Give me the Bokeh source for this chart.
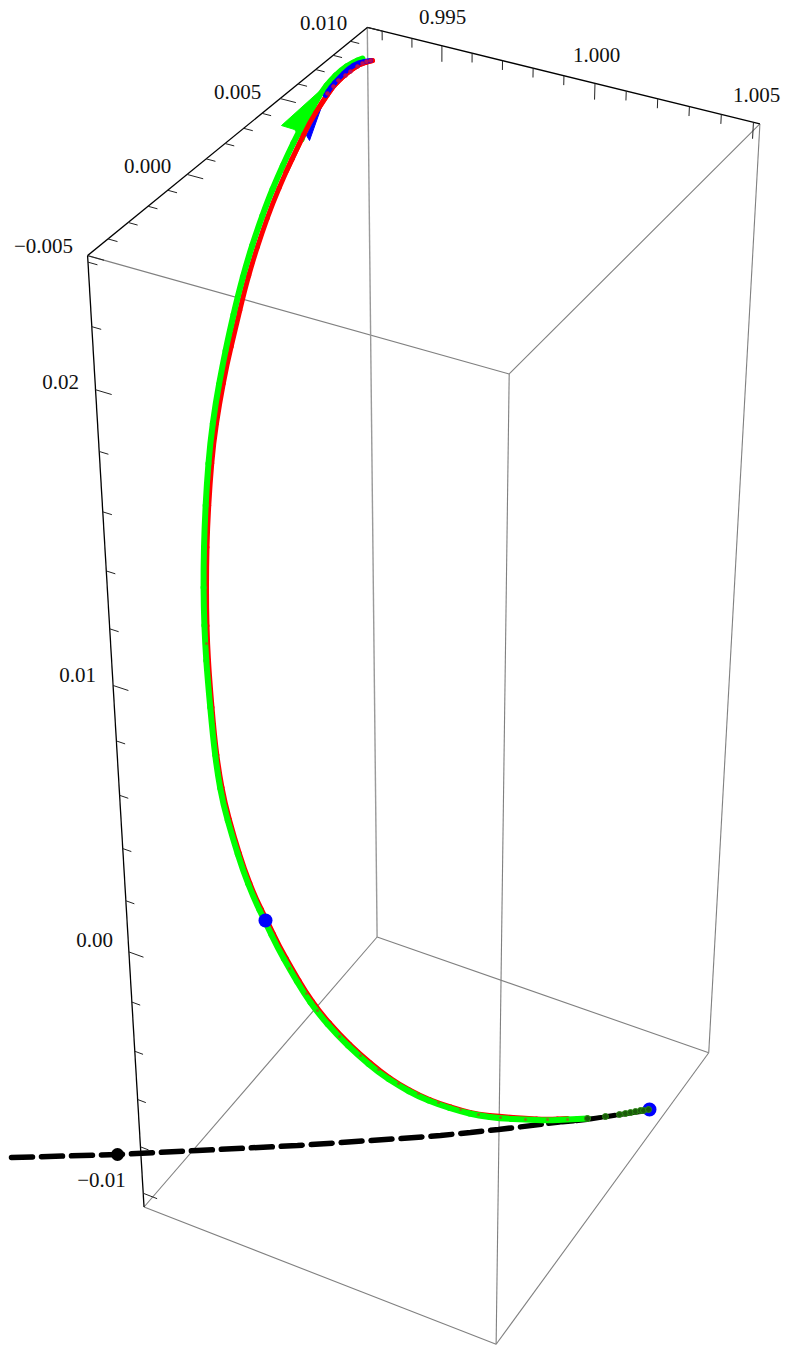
import numpy as np
from bokeh.plotting import figure
from bokeh.models import Range1d
from bokeh.core.properties import value
from bokeh.embed import file_html
from bokeh.resources import INLINE

# Ranges of the 3-D box and the ticks, in chart units
x_lim = (0.9925, 1.0052)
y_lim = (-0.005, 0.010)
z_lim = (-0.0106, 0.0242)
x_minor = [0.993, 0.994, 0.996, 0.997, 0.998, 0.999, 1.001, 1.002, 1.003, 1.004]
x_major = [0.995, 1.000, 1.005]
x_labels = ["0.995", "1.000", "1.005"]
y_minor = [-0.004, -0.003, -0.002, -0.001, 0.001, 0.002, 0.003, 0.004, 0.006, 0.007, 0.008, 0.009]
y_major = [-0.005, 0.000, 0.005, 0.010]
y_labels = ["\u22120.005", "0.000", "0.005", "0.010"]
z_minor = [-0.008, -0.006, -0.004, -0.002, 0.002, 0.004, 0.006, 0.008, 0.012, 0.014, 0.016, 0.018, 0.022, 0.024]
z_major = [-0.01, 0.00, 0.01, 0.02]
z_labels = ["\u22120.01", "0.00", "0.01", "0.02"]

# Where the eight box corners appear on the picture (x low/high, y low/high, z low/high)
corner_px = {
    (0, 0, 1): (87, 255), (0, 1, 1): (367, 27), (1, 1, 1): (759, 123), (1, 0, 1): (509, 374),
    (0, 0, 0): (143, 1206), (0, 1, 0): (377, 937), (1, 1, 0): (708, 1052), (1, 0, 0): (496, 1344),
}

# Curves
green_px = [362, 352, 340, 330, 322, 310, 298, 287.8, 276.9, 267.4, 256.5, 246.9, 237.9, 228.2, 222, 215, 209.6, 206.3, 204, 203, 203.2, 204.6, 207,
            212.5, 217, 222.5, 232, 242.5, 253, 265, 277, 290, 303, 317, 337, 358, 378, 398, 418, 438, 460, 478, 500, 525, 547, 567, 587]
green_py = [58, 62, 70, 80, 90, 110, 132, 153, 177, 200, 230, 260, 293, 335, 365, 403, 443, 483, 527, 567, 607, 643, 677,
            737, 773, 803, 837, 870, 897, 922, 947, 970, 992, 1012, 1035, 1055, 1072, 1085, 1096, 1104, 1111, 1115, 1118, 1119, 1120, 1119, 1118]
green_tail_px = [580, 590, 607, 620]
green_tail_py = [1118, 1118, 1116, 1114]
red_px = [372, 360, 347, 333, 321, 309, 298, 285.2, 272, 261.3, 252.5, 244, 234.6, 226.6, 219, 213, 209.5, 207, 206, 206, 207, 209,
          214, 218.7, 224.3, 233.5, 244, 254.5, 267, 279, 292, 305, 319, 339, 360, 380, 399, 419, 439, 461, 478, 500, 525, 547, 567]
red_py = [60, 63, 72, 85, 103, 122, 145, 172, 203, 233, 260, 290, 330, 363, 403, 443, 483, 527, 567, 607, 643, 677,
          736.5, 772, 802, 836, 869, 896, 921, 946, 969, 991, 1011, 1034, 1054, 1071, 1084, 1095, 1103, 1110, 1114, 1116, 1118, 1119, 1118]
blue_px = [370, 358, 348, 338, 330, 325]
blue_py = [60, 62, 68, 78, 87, 95]
dashed_px = [11, 117, 197, 297, 400, 440, 470, 498, 548]
dashed_py = [1157, 1154, 1150, 1145, 1138, 1135, 1132, 1129, 1123]
dashed_end_px = [548, 587, 613, 648]
dashed_end_py = [1123, 1119, 1115, 1110]

green_head_px = [322, 281, 294, 303]
green_head_py = [88, 125, 129, 141]
blue_head_px = [325, 306, 309]
blue_head_py = [95, 135, 140]

blue_dots_px = [649, 265]
blue_dots_py = [1109, 920]
black_dot_px = [117]
black_dot_py = [1154]
top_dots_px = [370, 366, 362, 357, 350, 345, 338, 333, 327]
top_dots_py = [60, 61, 63, 66, 71, 75, 80, 86, 93]
small_dots_px = [206, 289, 306, 317, 339, 360, 378, 398, 418, 438, 460, 478, 500, 525, 547, 567]
small_dots_py = [643, 968, 993, 1010, 1036, 1055, 1069, 1083, 1093, 1102, 1109, 1114, 1117, 1119, 1119, 1119]
end_dots_px = [587, 605, 619, 625, 630, 635, 640, 643, 648]
end_dots_py = [1118, 1116, 1114, 1113, 1112, 1111, 1110, 1110, 1109]

# Label anchors on the picture
x_label_px, x_label_py = [442, 596, 756], [17, 55, 95]
y_label_px, y_label_py = [43, 147, 237, 323], [246, 166, 92, 23]
z_label_px, z_label_py = [101, 94, 77, 60], [1180, 940, 675, 382]


def unit(v, lim):
    return (np.asarray(v, dtype=float) - lim[0]) / (lim[1] - lim[0])


# Perspective camera of the box: fitted to the eight corners
rows = []
for (a, b, c), (u, v) in corner_px.items():
    u, v = u / 1000, v / 1000
    rows.append([a, b, c, 1, 0, 0, 0, 0, -u * a, -u * b, -u * c, -u])
    rows.append([0, 0, 0, 0, a, b, c, 1, -v * a, -v * b, -v * c, -v])
P = np.linalg.svd(np.array(rows))[2][-1].reshape(3, 4)


def project(x, y, z):
    x, y, z = np.broadcast_arrays(unit(x, x_lim), unit(y, y_lim), unit(z, z_lim))
    h = P @ np.vstack([x, y, z, np.ones_like(x)])
    return (1000 * h[0] / h[2]).tolist(), (1000 * h[1] / h[2]).tolist()


p = figure(width=785, height=1346, x_range=Range1d(0, 785), y_range=Range1d(1346, 0),
           output_backend="svg", toolbar_location=None, min_border=0, outline_line_color=None)
p.axis.visible = False
p.grid.visible = False
p.background_fill_color = "white"

xa, xb = x_lim
ya, yb = y_lim
za, zb = z_lim

# Grey edges of the box
edges = [((xa, ya, zb), (xb, ya, zb)), ((xb, ya, zb), (xb, yb, zb)), ((xb, yb, zb), (xb, yb, za)),
         ((xb, ya, zb), (xb, ya, za)), ((xa, ya, za), (xa, yb, za)), ((xa, yb, za), (xb, yb, za)),
         ((xa, ya, za), (xb, ya, za)), ((xb, ya, za), (xb, yb, za))]
for e0, e1 in edges:
    xs, ys = project([e0[0], e1[0]], [e0[1], e1[1]], [e0[2], e1[2]])
    p.line(xs, ys, line_color="#808080", line_width=1.1)
xs, ys = project([xa, xa], [yb, yb], [zb, za])
p.line(xs, ys, line_color="#9a9a9a", line_width=1.4)

# Black axes
for e0, e1 in [((xa, ya, zb), (xa, yb, zb)), ((xa, yb, zb), (xb, yb, zb)), ((xa, ya, zb), (xa, ya, za))]:
    xs, ys = project([e0[0], e1[0]], [e0[1], e1[1]], [e0[2], e1[2]])
    p.line(xs, ys, line_color="black", line_width=1.3)


def ticks(vals, length, kind):
    x0, y0, x1, y1 = [], [], [], []
    for t in vals:
        if kind == "x":
            a, b = project([t, t], [yb, yb], [zb, zb - length])
        elif kind == "y":
            a, b = project([xa, xa + length], [t, t], [zb, zb])
        else:
            a, b = project([xa, xa + length], [ya, ya], [t, t])
        x0.append(a[0]); y0.append(b[0]); x1.append(a[1]); y1.append(b[1])
    p.segment(x0, y0, x1, y1, line_color="#222222", line_width=1)


ticks(x_major, 0.00052, "x"); ticks(x_minor, 0.0003, "x")
ticks(y_major, 0.00052, "y"); ticks(y_minor, 0.0003, "y")
ticks(z_major, 0.00052, "z"); ticks(z_minor, 0.0003, "z")

# Tick labels
for lx, ly, txt in [(x_label_px, x_label_py, x_labels), (y_label_px, y_label_py, y_labels), (z_label_px, z_label_py, z_labels)]:
    p.text(lx, [b - 1 for b in ly], text=txt, text_font=value("Liberation Serif"),
           text_font_size="21px", text_color="#111111", text_align="center", text_baseline="alphabetic")


def smooth(xs, ys, color, width):
    """Draw a read curve as quadratic pieces: each read point is the control of the piece round it."""
    xs, ys = np.asarray(xs, float), np.asarray(ys, float)
    mx, my = (xs[:-1] + xs[1:]) / 2, (ys[:-1] + ys[1:]) / 2
    p.segment([xs[0], mx[-1]], [ys[0], my[-1]], [mx[0], xs[-1]], [my[0], ys[-1]],
              line_color=color, line_width=width, line_cap="round")
    p.quadratic(mx[:-1], my[:-1], mx[1:], my[1:], xs[1:-1], ys[1:-1],
                line_color=color, line_width=width, line_cap="round")


# Curves
smooth(red_px, red_py, "#ff0000", 5)
p.line(dashed_px, dashed_py, line_color="black", line_width=5.5, line_dash="21 9", line_cap="round")
p.line(green_tail_px, green_tail_py, line_color="#00ff00", line_width=3.5)
p.line(dashed_end_px, dashed_end_py, line_color="black", line_width=5, line_dash="11 3", line_cap="round")
smooth(green_px, green_py, "#00ff00", 6)
p.patch(green_head_px, green_head_py, fill_color="#00ff00", line_color="#00ff00", line_width=1)
p.patch(blue_head_px, blue_head_py, fill_color="#0000ff", line_color="#0000ff", line_width=1)
smooth(red_px[:8], red_py[:8], "#ff0000", 5)
smooth(blue_px, blue_py, "#0000ff", 5)

# Point markers along the curves
p.scatter(top_dots_px, top_dots_py, size=4, fill_color="#b01060", line_color="#e00030", line_width=0.5)
p.scatter(small_dots_px, small_dots_py, size=3, fill_color="#a05a20", line_color=None, fill_alpha=0.8)
p.scatter(blue_dots_px, blue_dots_py, size=14, fill_color="#0000ff", line_color=None)
p.scatter(end_dots_px, end_dots_py, size=6, fill_color="#1a5a0a", line_color="#2a8a12", line_width=1)
p.scatter(black_dot_px, black_dot_py, size=13, fill_color="black", line_color=None)

open("out.html", "w").write(file_html(p, INLINE))
